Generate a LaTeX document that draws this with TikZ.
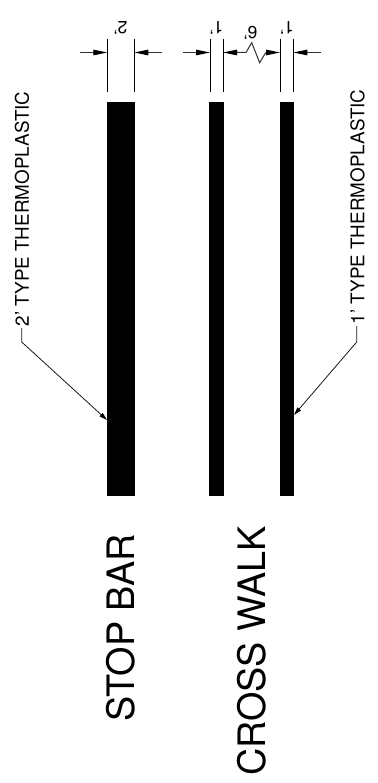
\documentclass[tikz,border=0pt]{standalone}
\usepackage{fontspec}
\setmainfont{TeX Gyre Heros}
\usetikzlibrary{arrows.meta}
\tikzset{
  bar/.style={fill=black,draw=none},
  extline/.style={line width=1pt},
  dimline/.style={line width=1pt,draw=black!80,{Triangle[length=14pt,width=5.5pt,black]}-},
  leader/.style={line width=0.8pt,draw=black!90,-{Triangle[length=8pt,width=4.5pt,black]}},
  dimtext/.style={inner sep=0pt,font=\fontsize{17.5}{18}\selectfont,rotate=180},
  notetext/.style={inner sep=0pt,font=\fontsize{18.85}{19}\selectfont,rotate=90},
  titletext/.style={inner sep=0pt,font=\fontsize{37.8}{39}\selectfont,rotate=90},
}
\begin{document}
\begin{tikzpicture}[x=1pt,y=-1pt]
\useasboundingbox (0,0) rectangle (377,783);
% bars
\fill[bar] (107,102) rectangle (135,496);
\fill[bar] (209,102) rectangle (224,496);
\fill[bar] (279.5,102) rectangle (294,496);
% extension lines
\foreach \x in {107.3,134.3,210,223,280,293.3}
  \draw[extline] (\x,39) -- (\x,92);
% dimension lines
\coordinate (a1) at (107.3,52.5); \coordinate (a1e) at (80,52.5);
\coordinate (a2) at (134.3,52.5); \coordinate (a2e) at (161.5,52.5);
\coordinate (b1) at (210,52.5);   \coordinate (b1e) at (182.5,52.5);
\coordinate (b2) at (223,52.5);   \coordinate (z1) at (246,52.5);
\coordinate (b3) at (280,52.5);   \coordinate (z4) at (265.7,52.5);
\coordinate (b4) at (293.3,52.5); \coordinate (b4e) at (320.5,52.5);
\draw[dimline] (a1) -- (a1e);
\draw[dimline] (a2) -- (a2e);
\draw[dimline] (b1) -- (b1e);
\draw[dimline] (b4) -- (b4e);
\draw[dimline] (b2) -- (z1) -- (251.7,42.7) -- (259.7,62.7) -- (z4);
\draw[dimline] (b3) -- (z4);
% dimension texts
\node[dimtext] (d2) at (120.5,27.5) {2'};
\node[dimtext] (d1a) at (216.5,27.5) {1'};
\node[dimtext] (d6) at (250.5,33) {6'};
\node[dimtext] (d1b) at (287,27.5) {1'};
% notes
\node[notetext,anchor=west] (n2) at (22,326.5) {2' TYPE THERMOPLASTIC};
\node[notetext,anchor=west] (n1) at (357.5,324.5) {1' TYPE THERMOPLASTIC};
\coordinate (l2) at (21.7,342); \coordinate (l1) at (356.7,342);
\coordinate (t2) at (107,420); \coordinate (t1) at (294,415);
\draw[leader] (21.7,328) -- (l2) -- (t2);
\draw[leader] (356.7,326) -- (l1) -- (t1);
% titles
\node[titletext,anchor=west] (sb) at (121,722) {STOP BAR};
\node[titletext,anchor=west] (cw) at (251.5,776) {CROSS WALK};
\end{tikzpicture}
\end{document}
